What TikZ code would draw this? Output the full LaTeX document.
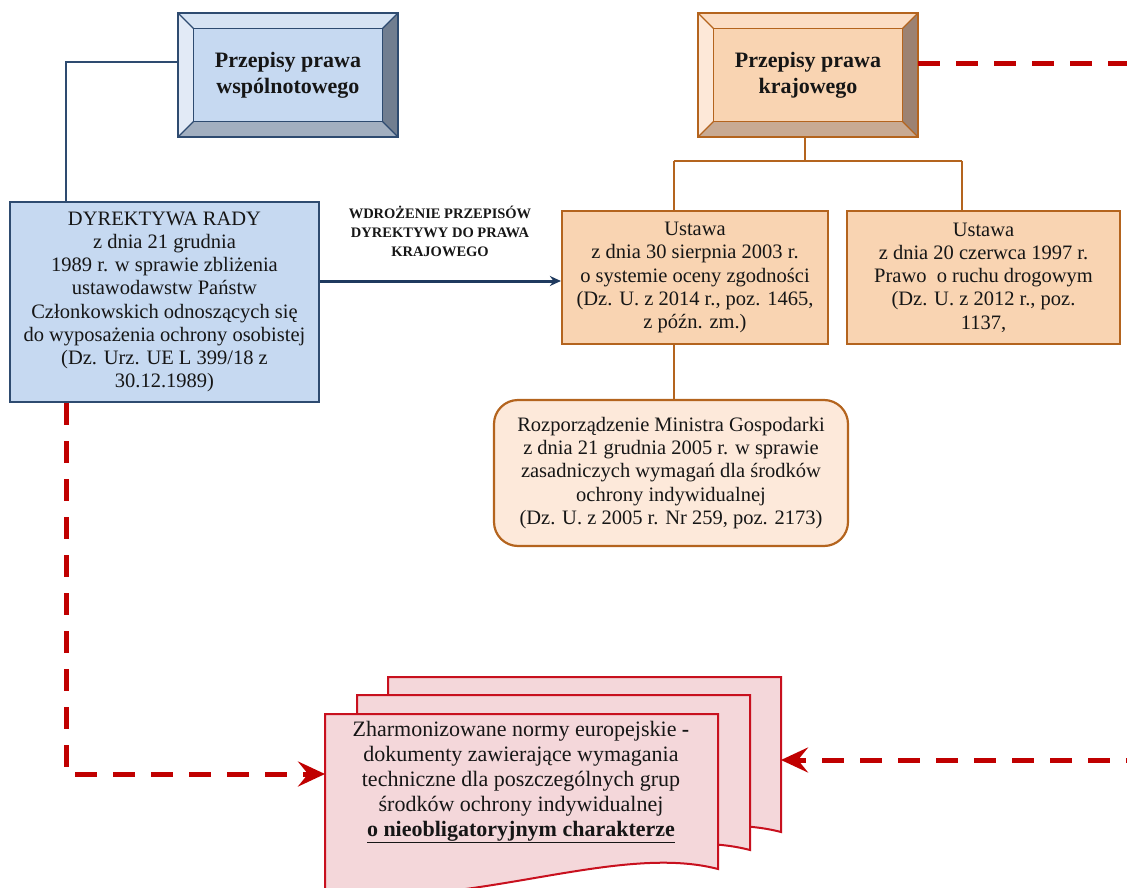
\documentclass[tikz,border=0pt]{standalone}
\usepackage{fontspec}
\setmainfont{Liberation Serif}
\usetikzlibrary{arrows.meta,calc}
\definecolor{blueface}{HTML}{C6D9F1}
\definecolor{bluetop}{HTML}{D6E3F3}
\definecolor{blueleft}{HTML}{E2EAF6}
\definecolor{blueright}{HTML}{717E90}
\definecolor{bluebottom}{HTML}{A2AFC0}
\definecolor{blueborder}{HTML}{2E4B70}
\definecolor{orface}{HTML}{F9D4B2}
\definecolor{ortop}{HTML}{FBDDC4}
\definecolor{orleft}{HTML}{FDE8D8}
\definecolor{orright}{HTML}{9C8272}
\definecolor{orbottom}{HTML}{C8AA93}
\definecolor{orborder}{HTML}{B4641E}
\definecolor{rozface}{HTML}{FDE9DA}
\definecolor{docface}{HTML}{F4D7DA}
\definecolor{docborder}{HTML}{C8101E}
\definecolor{redln}{HTML}{C00000}
\definecolor{navy}{HTML}{1F3A5F}
\definecolor{txt}{HTML}{161616}
\newcommand\mybevel[6]{%
 \fill[#2] (#1.north west) -- (#1.north east) -- ($(#1.north east)+(-16,16)$) -- ($(#1.north west)+(16,16)$) -- cycle;
 \fill[#3] (#1.north west) -- ($(#1.north west)+(16,16)$) -- ($(#1.south west)+(16,-16)$) -- (#1.south west) -- cycle;
 \fill[#4] (#1.north east) -- ($(#1.north east)+(-16,16)$) -- ($(#1.south east)+(-16,-16)$) -- (#1.south east) -- cycle;
 \fill[#5] (#1.south west) -- ($(#1.south west)+(16,-16)$) -- ($(#1.south east)+(-16,-16)$) -- (#1.south east) -- cycle;
 \draw[#6, line width=1.3] ($(#1.north west)+(16,16)$) rectangle ($(#1.south east)+(-16,-16)$);
 \draw[#6, line width=1.3] (#1.north west) -- ++(16,16) (#1.north east) -- ++(-16,16) (#1.south west) -- ++(16,-16) (#1.south east) -- ++(-16,-16);
 \draw[#6, line width=2.2] (#1.north west) rectangle (#1.south east);
}
\newcommand\docpath{(0,0) -- (393,0) -- (393,155) .. controls (290,128) and (140,198) .. (0,178) -- cycle}
\begin{document}
\begin{tikzpicture}[x=1pt,y=-1pt,
  every node/.style={text=txt, align=center, inner sep=0pt},
  reg/.style={font=\fontsize{20.5}{23.2}\selectfont},
  titlebox/.style={minimum width=220, minimum height=124, font=\bfseries\fontsize{22}{26}\selectfont},
  bluebox/.style={reg, draw=blueborder, fill=blueface, line width=2.2},
  orbox/.style={reg, draw=orborder, fill=orface, line width=2.2},
  rozbox/.style={reg, draw=orborder, fill=rozface, line width=2.2, rounded corners=24},
  docstyle/.style={draw=docborder, fill=docface, line width=2},
  blueln/.style={draw=blueborder, line width=1.6},
  brownln/.style={draw=orborder, line width=1.6},
  redarrow/.style={draw=redln, line width=5, dash pattern=on 22pt off 16pt, -{Stealth[length=27pt,width=25pt,inset=10pt,fill=redln]}},
]
\useasboundingbox (0,0) rectangle (1127,888);
\clip (0,0) rectangle (1127,888);

% title boxes
\node[titlebox, fill=blueface] (wsp) at (288,75) {Przepisy prawa\\wspólnotowego};
\mybevel{wsp}{bluetop}{blueleft}{blueright}{bluebottom}{blueborder}
\node[titlebox, fill=orface] (kraj) at (808,75) {Przepisy prawa\\krajowego};
\mybevel{kraj}{ortop}{orleft}{orright}{orbottom}{orborder}

% directive box
\node[bluebox, minimum width=309, minimum height=200] (dyr) at (164.5,302) {DYREKTYWA RADY\\z dnia 21 grudnia\\1989 r. w sprawie zbliżenia\\ustawodawstw Państw\\Członkowskich odnoszących się\\do wyposażenia ochrony osobistej\\(Dz. Urz. UE L 399/18 z\\30.12.1989)};

% national acts
\node[orbox, minimum width=266, minimum height=133] (ust1) at (695,277.5) {Ustawa\\z dnia 30 sierpnia 2003 r.\\o systemie oceny zgodności\\(Dz. U. z 2014 r., poz. 1465,\\z późn. zm.)};
\node[orbox, minimum width=273, minimum height=133] (ust2) at (983.5,277.5) {Ustawa\\z dnia 20 czerwca 1997 r.\\Prawo\ \ o ruchu drogowym\\(Dz. U. z 2012 r., poz.\\1137,};
\node[rozbox, minimum width=354, minimum height=146] (roz) at (671,473) {Rozporządzenie Ministra Gospodarki\\z dnia 21 grudnia 2005 r. w sprawie\\zasadniczych wymagań dla środków\\ochrony indywidualnej\\(Dz. U. z 2005 r. Nr 259, poz. 2173)};

% documents stack
\draw[docstyle, shift={(388,677)}] \docpath;
\draw[docstyle, shift={(357,695)}] \docpath;
\draw[docstyle, shift={(325,714)}] \docpath;
\node[font=\fontsize{22}{25}\selectfont] (norm) at (521,782) {Zharmonizowane normy europejskie \textbf{-}\\dokumenty zawierające wymagania\\techniczne dla poszczególnych grup\\środków ochrony indywidualnej\\\underline{\textbf{o nieobligatoryjnym charakterze}}};
\coordinate (docL) at (325,774);
\coordinate (docR) at (781,760);

% connectors
\coordinate (bj) at (66,62);
\draw[blueln] (wsp.west |- bj) -- (bj) -- (bj |- dyr.north);
\coordinate (hub) at (805,161);
\coordinate (h1) at (674,161);
\coordinate (h2) at (962,161);
\draw[brownln] (hub |- kraj.south) -- (hub);
\draw[brownln] (h1) -- (h2);
\draw[brownln] (h1) -- (h1 |- ust1.north);
\draw[brownln] (h2) -- (h2 |- ust2.north);
\draw[brownln] (h1 |- ust1.south) -- (h1 |- roz.north);

\coordinate (ya) at (0,281);
\draw[navy, line width=3, -{Stealth[length=11pt,width=10pt]}] (dyr.east |- ya) -- (ust1.west |- ya);
\node[font=\bfseries\fontsize{14.5}{19}\selectfont] (lbl) at (440,231) {WDROŻENIE PRZEPISÓW\\DYREKTYWY DO PRAWA\\KRAJOWEGO};

% red dashed links
\coordinate (rt) at (1160,64);
\draw[redarrow] (bj |- dyr.south) -- (bj |- docL) -- (docL);
\draw[redarrow] (kraj.east |- rt) -- (rt) -- (rt |- docR) -- (docR);
\end{tikzpicture}
\end{document}
